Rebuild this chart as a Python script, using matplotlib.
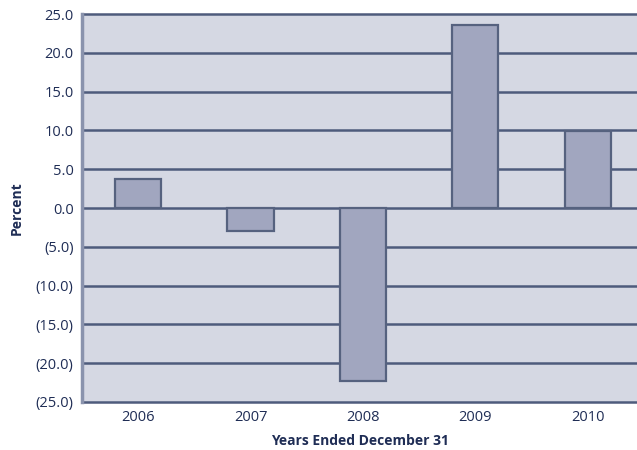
import matplotlib
matplotlib.use("Agg")
import matplotlib.pyplot as plt
from matplotlib.ticker import FixedLocator, FuncFormatter

years = ["2006", "2007", "2008", "2009", "2010"]
returns = [3.7, -3.0, -22.3, 23.6, 9.9]
y_ticks = [25, 20, 15, 10, 5, 0, -5, -10, -15, -20, -25]

navy = "#1f2d55"
grid_col = "#4e5b7c"
plot_bg = "#d5d8e3"
bar_fill = "#a1a6bf"
bar_edge = "#56627f"

plt.rcParams["font.family"] = ["Open Sans", "DejaVu Sans"]

W, H = 637, 450
left, right, top, bottom = 82, 637, 14, 402
fig = plt.figure(figsize=(W / 100, H / 100), dpi=100)
ax = fig.add_axes([left / W, 1 - bottom / H, (right - left) / W, (bottom - top) / H])
ax.set_facecolor(plot_bg)

x = list(range(len(years)))
ax.bar(x, returns, width=0.41, color=bar_fill, edgecolor=bar_edge,
       linewidth=1.6, zorder=3)

ax.set_ylim(-25, 25)
ax.set_xlim(-0.5, 4.44)
ax.yaxis.set_major_locator(FixedLocator(y_ticks))
ax.yaxis.set_major_formatter(FuncFormatter(
    lambda v, p: f"{v:.1f}" if v >= 0 else f"({abs(v):.1f})"))
ax.set_xticks(x)
ax.set_xticklabels(years)
ax.tick_params(axis="both", length=0, colors=navy, labelsize=10.5)
ax.tick_params(axis="y", pad=6)
ax.tick_params(axis="x", pad=6)

ax.grid(axis="y", color=grid_col, linewidth=1.8, zorder=1)
ax.set_axisbelow(True)
for gl in ax.get_ygridlines():
    gl.set_clip_on(False)
for side in ("top", "right", "bottom"):
    ax.spines[side].set_visible(False)
ax.spines["left"].set_color("#8a93ad")
ax.spines["left"].set_linewidth(2.5)

ax.set_ylabel("Percent", color=navy, fontweight="bold", fontsize=10,
              va="center")
ax.yaxis.set_label_coords((17 - left) / (right - left), 0.5)
ax.set_xlabel("Years Ended December 31", color=navy, fontweight="bold",
              fontsize=10, va="center")
ax.xaxis.set_label_coords(0.5, -(441 - bottom) / (bottom - top))

fig.savefig("out.png", dpi=100)
